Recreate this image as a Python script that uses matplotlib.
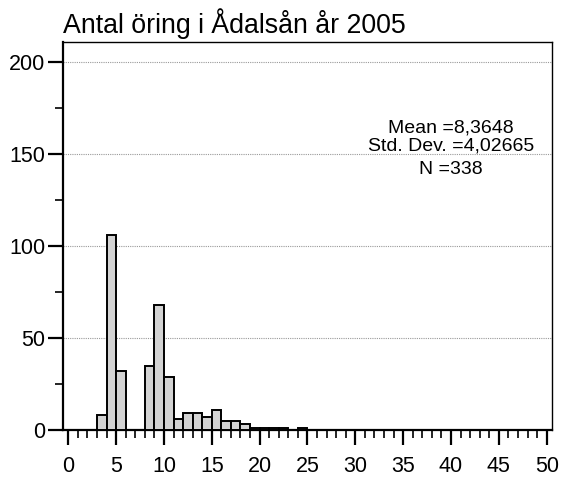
import matplotlib
matplotlib.use("Agg")
import matplotlib.pyplot as plt
from matplotlib.ticker import MultipleLocator

plt.rcParams['font.family'] = ['Liberation Sans', 'DejaVu Sans']

# Histogram bins (left edge, width 1) and counts
bin_left = [3, 4, 5, 8, 9, 10, 11, 12, 13, 14, 15, 16, 17, 18, 19, 20, 21, 22, 24]
counts   = [8, 106, 32, 35, 68, 29, 6, 9, 9, 7, 11, 5, 5, 3, 1, 1, 1, 1, 1]
x_ticks = [0, 5, 10, 15, 20, 25, 30, 35, 40, 45, 50]
y_ticks = [0, 50, 100, 150, 200]
title = "Antal öring i Ådalsån år 2005"
stats = ["Mean =8,3648", "Std. Dev. =4,02665", "N =338"]

fig = plt.figure(figsize=(5.62, 4.79), dpi=100)
ax = fig.add_axes([0.1126, 0.1023, 0.869, 0.809])

ax.bar(bin_left, counts, width=1, align='edge', color='#d3d3d3',
       edgecolor='black', linewidth=1.4, zorder=3)

ax.set_xlim(-0.52, 50.52)
ax.set_ylim(0, 210.4)
ax.set_xticks(x_ticks)
ax.set_yticks(y_ticks)
ax.xaxis.set_minor_locator(MultipleLocator(1))
ax.yaxis.set_minor_locator(MultipleLocator(25))

for y in y_ticks[1:]:
    ax.axhline(y, color='#999999', linestyle=(0, (1, 1)), linewidth=0.8, zorder=1)

ax.tick_params(axis='x', which='major', direction='out', length=11, width=1.6,
               labelsize=15.5, pad=8)
ax.tick_params(axis='x', which='minor', direction='out', length=5.5, width=1.2)
ax.tick_params(axis='y', which='major', direction='out', length=11, width=1.6,
               labelsize=15.5, pad=2)
ax.tick_params(axis='y', which='minor', direction='out', length=5.5, width=1.2)

for s in ['left', 'bottom']:
    ax.spines[s].set_linewidth(1.6)
for s in ['top', 'right']:
    ax.spines[s].set_linewidth(1.0)

fig.text(0.1126, 0.9305, title, fontsize=19.3, ha='left', va='baseline')

ys = [161.6, 151.5, 139.2]
for t, yv in zip(stats, ys):
    ax.text(40.0, yv, t, fontsize=14, ha='center', va='baseline', zorder=4)

fig.savefig("out.png", dpi=100)
